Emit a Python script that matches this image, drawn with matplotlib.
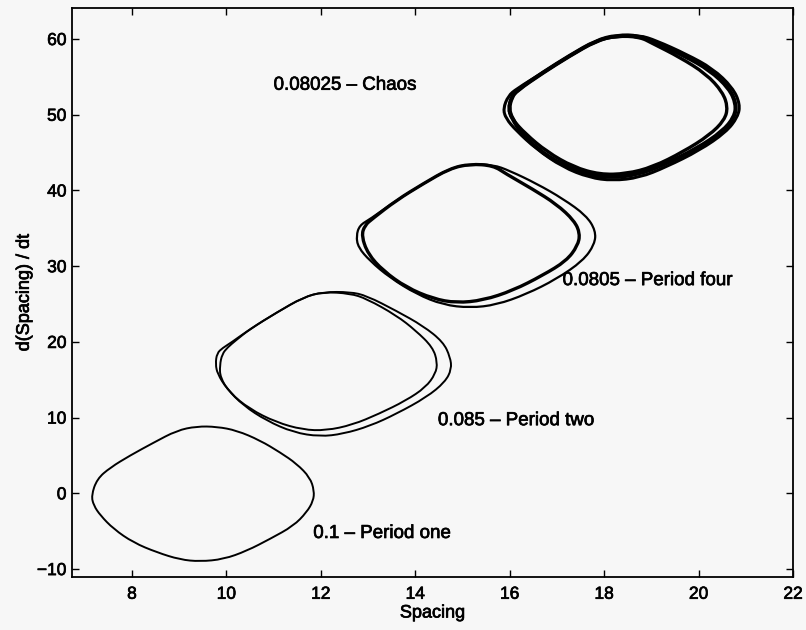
import matplotlib as mpl
import matplotlib.pyplot as plt
import matplotlib.patheffects as pe
import numpy as np
from matplotlib.patches import PathPatch
from matplotlib.path import Path

mpl.rcParams.update(
    {
        "font.family": "sans-serif",
        "font.sans-serif": ["Liberation Sans", "DejaVu Sans"],
        "axes.linewidth": 1.3,
    }
)

# limit cycles in the (spacing, d(spacing)/dt) plane, one set per gain value
# period one: a single closed orbit
p1_x = [7.14, 7.26, 7.54, 7.96, 8.46, 8.95, 9.37, 9.80, 10.22, 10.71, 11.14, 11.49, 11.77, 11.86,
        11.84, 11.70, 11.42, 10.93, 10.43, 9.94, 9.44, 9.02, 8.53, 8.03, 7.61, 7.33, 7.19]
p1_y = [-0.3, 1.9, 3.4, 5.0, 6.7, 8.3, 8.85, 8.8, 8.3, 7.0, 5.4, 3.9, 2.1, 0.35,
        -1.0, -2.5, -4.3, -6.0, -7.6, -8.7, -9.0, -8.75, -7.8, -6.5, -4.7, -2.9, -1.6]

# period two: outer and inner branch of the doubled orbit
p2_outer_x = [9.77, 9.80, 9.92, 10.10, 10.50, 11.07, 11.63, 12.05, 12.62, 12.97, 13.60, 14.17, 14.59,
              14.74, 14.77, 14.63, 14.24, 13.60, 13.04, 12.47, 11.98, 11.42, 10.85, 10.36, 10.01, 9.81]
p2_outer_y = [17.1, 18.5, 19.2, 19.9, 21.7, 23.9, 25.9, 26.6, 26.6, 26.1, 24.1, 22.1, 20.0,
              18.0, 16.4, 14.7, 12.7, 10.5, 8.9, 7.85, 7.5, 8.05, 9.6, 11.6, 13.8, 15.8]
p2_inner_x = [9.86, 9.91, 10.03, 10.20, 10.50, 11.07, 11.63, 12.05, 12.62, 12.97, 13.60, 14.01, 14.37,
              14.47, 14.43, 14.22, 13.80, 13.23, 12.67, 12.11, 11.62, 11.05, 10.49, 10.07, 9.87]
p2_inner_y = [16.9, 18.4, 19.3, 20.2, 21.7, 23.9, 25.9, 26.6, 26.4, 25.7, 23.5, 21.5, 19.3,
              17.3, 15.8, 14.0, 12.25, 10.5, 9.05, 8.3, 8.4, 9.4, 11.15, 13.3, 15.3]

# period four
p4_outer_x = [12.75, 12.82, 13.04, 13.60, 14.17, 14.73, 15.16, 15.65, 16.00, 16.57, 17.13, 17.62,
              17.82, 17.80, 17.55, 16.99, 16.35, 15.72, 15.16, 14.59, 14.03, 13.46, 13.04, 12.79]
p4_outer_y = [34.0, 35.4, 36.2, 38.7, 40.9, 42.9, 43.5, 43.4, 42.6, 40.9, 38.9, 36.7,
              34.7, 32.9, 30.7, 28.3, 26.3, 24.9, 24.5, 24.9, 26.3, 28.5, 30.7, 32.5]
p4_inner_x = [12.86, 12.93, 13.10, 13.60, 14.17, 14.73, 15.16, 15.65, 15.92, 16.48, 16.99, 17.37,
              17.49, 17.44, 17.20, 16.70, 16.07, 15.44, 14.87, 14.38, 13.81, 13.32, 13.00]
p4_inner_y = [34.0, 35.4, 36.3, 38.7, 40.9, 42.9, 43.5, 43.3, 42.2, 40.2, 38.2, 36.0,
              34.3, 32.7, 30.7, 28.8, 26.8, 25.5, 25.15, 25.7, 27.2, 29.4, 31.6]

# chaos: outer edge, dense band just inside it, and the inner edge
ch_outer_x = [15.86, 15.97, 16.14, 16.71, 17.27, 17.83, 18.26, 18.75, 19.10, 19.74, 20.30, 20.72,
              20.88, 20.83, 20.58, 20.02, 19.31, 18.75, 18.18, 17.69, 17.12, 16.56, 16.14, 15.92]
ch_outer_y = [50.8, 52.5, 53.4, 55.6, 57.8, 59.8, 60.5, 60.5, 59.8, 58.0, 56.1, 53.6,
              51.4, 49.7, 47.7, 45.3, 43.1, 41.7, 41.3, 41.7, 43.1, 45.5, 47.9, 49.5]
ch_band_x = [15.98, 16.04, 16.15, 16.71, 17.27, 17.83, 18.26, 18.75, 19.07, 19.70, 20.24, 20.65,
             20.80, 20.76, 20.51, 19.96, 19.26, 18.71, 18.15, 17.66, 17.10, 16.58, 16.25, 16.05]
ch_band_y = [50.8, 52.3, 53.2, 55.6, 57.8, 59.8, 60.5, 60.4, 59.6, 57.8, 55.9, 53.5,
             51.4, 49.7, 47.8, 45.5, 43.4, 42.1, 41.7, 42.1, 43.4, 45.5, 47.6, 49.5]
ch_inner_x = [15.97, 16.04, 16.15, 16.71, 17.27, 17.83, 18.26, 18.75, 19.03, 19.60, 20.16, 20.51,
              20.62, 20.55, 20.23, 19.67, 19.03, 18.47, 17.91, 17.35, 16.79, 16.33, 16.04]
ch_inner_y = [50.8, 52.3, 53.2, 55.6, 57.8, 59.8, 60.4, 60.3, 59.4, 57.6, 55.4, 53.0,
              51.0, 49.3, 47.3, 45.1, 43.1, 42.2, 42.1, 43.1, 45.1, 47.5, 49.5]

labels = ["0.08025 \u2013 Chaos", "0.0805 \u2013 Period four", "0.085 \u2013 Period two", "0.1 \u2013 Period one"]
label_x = [11.0, 17.12, 14.48, 11.84]
label_y = [53.9, 28.1, 9.6, -5.3]

x_ticks = [8, 10, 12, 14, 16, 18, 20, 22]
y_ticks = [-10, 0, 10, 20, 30, 40, 50, 60]


def loop_path(xs, ys):
    # closed quadratic-bezier path with the sampled points as control points
    pts = np.column_stack([xs, ys])
    mids = (pts + np.roll(pts, -1, axis=0)) / 2
    verts = [mids[-1]]
    codes = [Path.MOVETO]
    for p, m in zip(pts, mids):
        verts += [p, m]
        codes += [Path.CURVE3, Path.CURVE3]
    return Path(verts, codes)


bg = "#f7f7f7"
heavy = [pe.withStroke(linewidth=0.5, foreground="black")]

fig = plt.figure(figsize=(8.06, 6.30), dpi=100)
fig.patch.set_facecolor(bg)
ax = fig.add_axes([0.0893, 0.0841, 0.8946, 0.9032])
ax.set_facecolor(bg)

loops = [
    (p1_x, p1_y, 1.4),
    (p2_outer_x, p2_outer_y, 1.4),
    (p2_inner_x, p2_inner_y, 1.4),
    (p4_outer_x, p4_outer_y, 1.6),
    (p4_inner_x, p4_inner_y, 2.4),
    (ch_outer_x, ch_outer_y, 2.2),
    (ch_band_x, ch_band_y, 3.0),
    (ch_inner_x, ch_inner_y, 2.4),
]
for xs, ys, lw in loops:
    ax.add_patch(PathPatch(loop_path(xs, ys), facecolor="none", edgecolor="black",
                           linewidth=lw, joinstyle="round"))

for txt, tx, ty in zip(labels, label_x, label_y):
    ax.text(tx, ty, txt, fontsize=13.5, ha="left", va="center", path_effects=heavy)

ax.set_xlim(6.73, 22)
ax.set_ylim(-11.05, 64.1)
ax.set_xticks(x_ticks)
ax.set_yticks(y_ticks)
ax.tick_params(direction="in", length=5, width=1.0, top=True, right=True, labelsize=12.5)
ax.tick_params(axis="x", pad=7)
ax.tick_params(axis="y", pad=4)
for lab in ax.get_xticklabels() + ax.get_yticklabels():
    lab.set_path_effects(heavy)
ax.set_xlabel("Spacing", fontsize=13, labelpad=2, path_effects=heavy)
ax.set_ylabel("d(Spacing) / dt", fontsize=13, labelpad=3, path_effects=heavy)

fig.savefig("out.png", dpi=100, facecolor=bg)
